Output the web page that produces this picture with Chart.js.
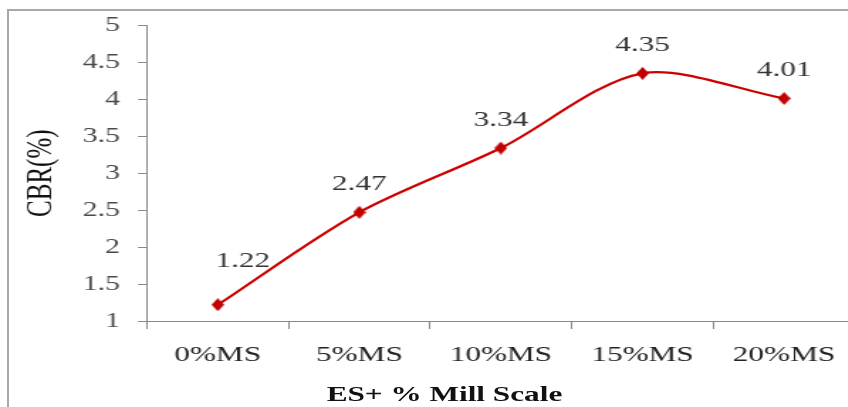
<!DOCTYPE html>
<html>
<head>
<meta charset="utf-8">
<script src="https://cdn.jsdelivr.net/npm/chart.js@4/dist/chart.umd.min.js"></script>
<style>
  html, body { margin:0; padding:0; background:#fff; width:848px; height:407px; overflow:hidden; }
  #frame { position:absolute; left:7px; top:9px; width:900px; height:460px; border:2px solid #a8a8a8; box-sizing:border-box; }
  #stretch { position:absolute; left:0; top:0; width:613px; height:407px; transform:scaleX(1.42); transform-origin:0 0; }
  #c { position:absolute; left:0; top:0; }
  #xtitle { position:absolute; left:0; width:626px; top:381px; line-height:26px; text-align:center;
            font:bold 22px 'Liberation Serif', 'Times New Roman', serif; color:#111; white-space:nowrap; }
</style>
</head>
<body>
<div id="frame"></div>
<div id="stretch">
  <canvas id="c" width="613" height="407"></canvas>
  <div id="xtitle">ES+ % Mill Scale</div>
</div>
<script>
// ---- data ----
const categories = ['0%MS', '5%MS', '10%MS', '15%MS', '20%MS'];
const cbrValues = [1.22, 2.47, 3.34, 4.35, 4.01];
const valueLabels = ['1.22', '2.47', '3.34', '4.35', '4.01'];
const yTickMin = 1;
const yTickMax = 5;
const yTickStep = 0.5;
const yTitle = 'CBR(%)';

// ---- style helpers ----
const SERIF = "'Liberation Serif', 'Times New Roman', serif";
const LINE_RED = '#cc0000';
const MARK_RED = '#c00000';
const AXIS_GRAY = '#888888';

function diamond(w, h, color) {
  const c = document.createElement('canvas');
  c.width = w; c.height = h;
  const g = c.getContext('2d');
  g.fillStyle = color;
  g.beginPath();
  g.moveTo(w / 2, 0); g.lineTo(w, h / 2); g.lineTo(w / 2, h); g.lineTo(0, h / 2);
  g.closePath(); g.fill();
  return c;
}
const markImg = diamond(9, 13, MARK_RED);

const valueLabelPlugin = {
  id: 'valueLabels',
  afterDatasetsDraw(chart, args, opts) {
    const meta = chart.getDatasetMeta(0);
    const ctx = chart.ctx;
    ctx.save();
    ctx.font = opts.font;
    ctx.fillStyle = opts.color;
    ctx.textAlign = 'center';
    ctx.textBaseline = 'middle';
    meta.data.forEach((pt, i) => {
      const off = (opts.offsets && opts.offsets[i]) || opts.defaultOffset;
      ctx.fillText(valueLabels[i], pt.x + off.dx, pt.y - off.dy);
    });
    ctx.restore();
  }
};

new Chart(document.getElementById('c'), {
  type: 'line',
  data: {
    labels: categories,
    datasets: [{
      data: cbrValues,
      borderColor: LINE_RED,
      borderWidth: 2.2,
      tension: 0.3,
      pointStyle: markImg,
      pointRadius: 6,
      pointHoverRadius: 6,
      backgroundColor: MARK_RED,
      fill: false
    }]
  },
  options: {
    responsive: false,
    animation: false,
    devicePixelRatio: 1,
    events: [],
    layout: { padding: { left: 0, right: 11, top: 25, bottom: 0 } },
    plugins: {
      legend: { display: false },
      tooltip: { enabled: false },
      valueLabels: {
        font: '22px ' + SERIF,
        color: '#333333',
        defaultOffset: { dx: 0, dy: 28 },
        offsets: [{ dx: 17.6, dy: 44 }]
      }
    },
    scales: {
      x: {
        type: 'category',
        offset: true,
        grid: { offset: true, drawOnChartArea: false, drawTicks: true, tickLength: 8, color: AXIS_GRAY, lineWidth: 1 },
        border: { display: true, color: AXIS_GRAY, width: 1 },
        ticks: { font: { family: SERIF, size: 22 }, color: '#222222', padding: 13, maxRotation: 0, autoSkip: false },
        afterFit(scale) { scale.height = 86; }
      },
      y: {
        min: yTickMin,
        max: yTickMax,
        grid: { drawOnChartArea: false, drawTicks: true, tickLength: 6.3, color: AXIS_GRAY, lineWidth: 1 },
        border: { display: true, color: AXIS_GRAY, width: 1 },
        ticks: { stepSize: yTickStep, font: { family: SERIF, size: 21 }, color: '#4a4a4a', padding: 12.7,
                 callback: (v) => String(v) },
        title: { display: true, text: yTitle, font: { family: SERIF, size: 25 }, color: '#111111', padding: { top: 14.6, bottom: 0 } },
        afterFit(scale) { scale.width = 103.5; }
      }
    }
  },
  plugins: [valueLabelPlugin]
});
</script>
</body>
</html>
